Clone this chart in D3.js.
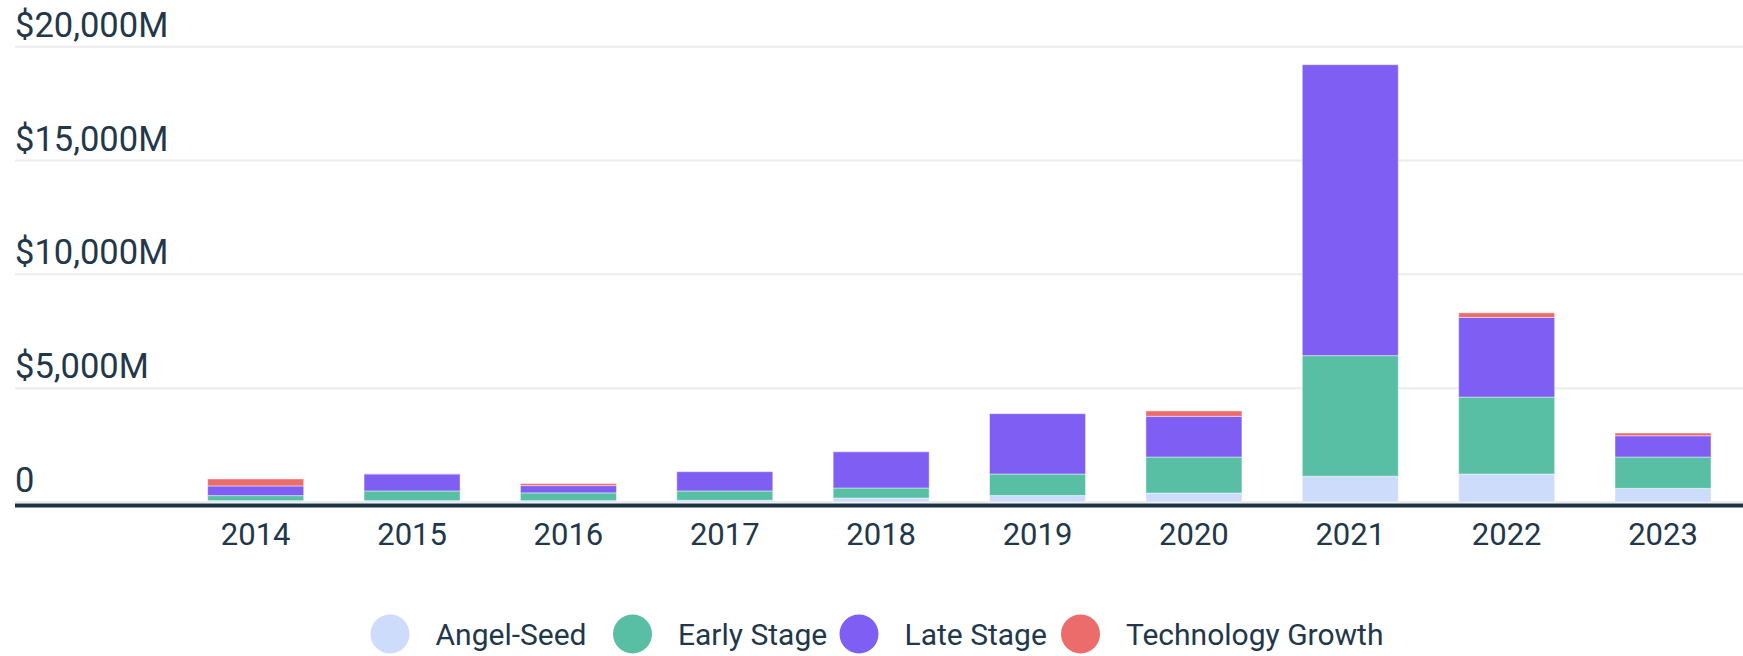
<!DOCTYPE html>
<html>
<head>
<meta charset="utf-8">
<script src="https://cdn.jsdelivr.net/npm/d3@7"></script>
<style>
    html, body { margin: 0; padding: 0; background: #fff; }
    svg text { font-family: Roboto, "Noto Sans", sans-serif; fill: #22374a; }
</style>
</head>
<body>
<div id="chart"></div>
<script>
// values in $M
var years = ["2014", "2015", "2016", "2017", "2018", "2019", "2020", "2021", "2022", "2023"];
var angelSeed = [60, 60, 60, 75, 175, 285, 395, 1130, 1230, 600];
var earlyStage = [220, 425, 340, 410, 440, 945, 1580, 5300, 3380, 1375];
var lateStage = [425, 745, 320, 850, 1595, 2650, 1790, 12780, 3500, 935];
var techGrowth = [305, 10, 90, 10, 10, 0, 235, 0, 200, 120];

var seriesNames = ["Angel-Seed", "Early Stage", "Late Stage", "Technology Growth"];
var seriesColors = ["#cddcfa", "#58bfa5", "#7f5ef3", "#ec6b6b"];
var yTicks = [0, 5000, 10000, 15000, 20000];

function StackedChart() {
    var sc = this;

    sc.createSVG = createSVG;
    sc.drawGrid = drawGrid;
    sc.drawBars = drawBars;
    sc.drawLegend = drawLegend;

    /////////////////////////////////////

    function createSVG(selector) {
        var width = 1743, height = 656;

        sc.svg = d3.select(selector).append("svg")
            .attr("width", width)
            .attr("height", height);

        sc.x = d3.scaleBand()
            .domain(years)
            .range([177.5, 1741.2])
            .paddingInner(0.386)
            .paddingOuter(0.193);

        sc.y = d3.scaleLinear()
            .domain([0, 20000])
            .range([502, 46.7]);

        sc.left = 15;
        sc.width = width;
    }

    function drawGrid() {
        var g = sc.svg.append("g").attr("class", "grid");

        g.selectAll("line")
            .data(yTicks)
            .enter().append("line")
                .attr("x1", sc.left)
                .attr("x2", sc.width)
                .attr("y1", function(d) { return sc.y(d); })
                .attr("y2", function(d) { return sc.y(d); })
                .style("stroke", "#ececec")
                .style("stroke-width", 2);

        g.selectAll("text")
            .data(yTicks)
            .enter().append("text")
                .attr("x", sc.left)
                .attr("y", function(d) { return sc.y(d) - 10; })
                .style("font-size", "34.5px")
                .text(function(d) { return d === 0 ? "0" : "$" + d3.format(",")(d) + "M"; });

        // x axis
        var xAxis = sc.svg.append("g")
            .attr("transform", "translate(0,545)")
            .call(d3.axisBottom(sc.x).tickSize(0).tickPadding(0));
        xAxis.select(".domain").remove();
        xAxis.selectAll("text")
            .attr("dy", 0)
            .style("font-size", "31px")
            .style("font-family", "Roboto, sans-serif")
            .style("fill", "#22374a");
    }

    function drawBars() {
        var rows = years.map(function(yr, i) {
            return { year: yr, a: angelSeed[i], e: earlyStage[i], l: lateStage[i], t: techGrowth[i] };
        });
        var stack = d3.stack().keys(["a", "e", "l", "t"])(rows);

        sc.svg.append("g").selectAll("g")
            .data(stack)
            .enter().append("g")
                .style("fill", function(d, i) { return seriesColors[i]; })
            .selectAll("rect")
            .data(function(d) { return d; })
            .enter().append("rect")
                .attr("x", function(d) { return sc.x(d.data.year); })
                .attr("width", sc.x.bandwidth())
                .attr("y", function(d) { return sc.y(d[1]); })
                .attr("height", function(d) { return Math.max(0, sc.y(d[0]) - sc.y(d[1])); })
                .style("stroke", "#fff")
                .style("stroke-opacity", 0.45)
                .style("stroke-width", 1);

        // dark baseline
        sc.svg.append("line")
            .attr("x1", sc.left)
            .attr("x2", sc.width)
            .attr("y1", 505.5)
            .attr("y2", 505.5)
            .style("stroke", "#1e3341")
            .style("stroke-width", 4);
    }

    function drawLegend() {
        var cx = [390, 632.5, 859, 1080.5];
        var lg = sc.svg.append("g").attr("class", "legend");

        var item = lg.selectAll("g")
            .data(seriesNames)
            .enter().append("g")
                .attr("transform", function(d, i) { return "translate(" + cx[i] + ",634)"; });

        item.append("circle")
            .attr("r", 19.5)
            .style("fill", function(d, i) { return seriesColors[i]; });

        item.append("text")
            .attr("x", 45.5)
            .attr("y", 10.5)
            .style("font-size", "30px")
            .text(function(d) { return d; });
    }
}

(function() {
    var sc = new StackedChart();
    sc.createSVG("#chart");
    sc.drawGrid();
    sc.drawBars();
    sc.drawLegend();
})();
</script>
</body>
</html>
